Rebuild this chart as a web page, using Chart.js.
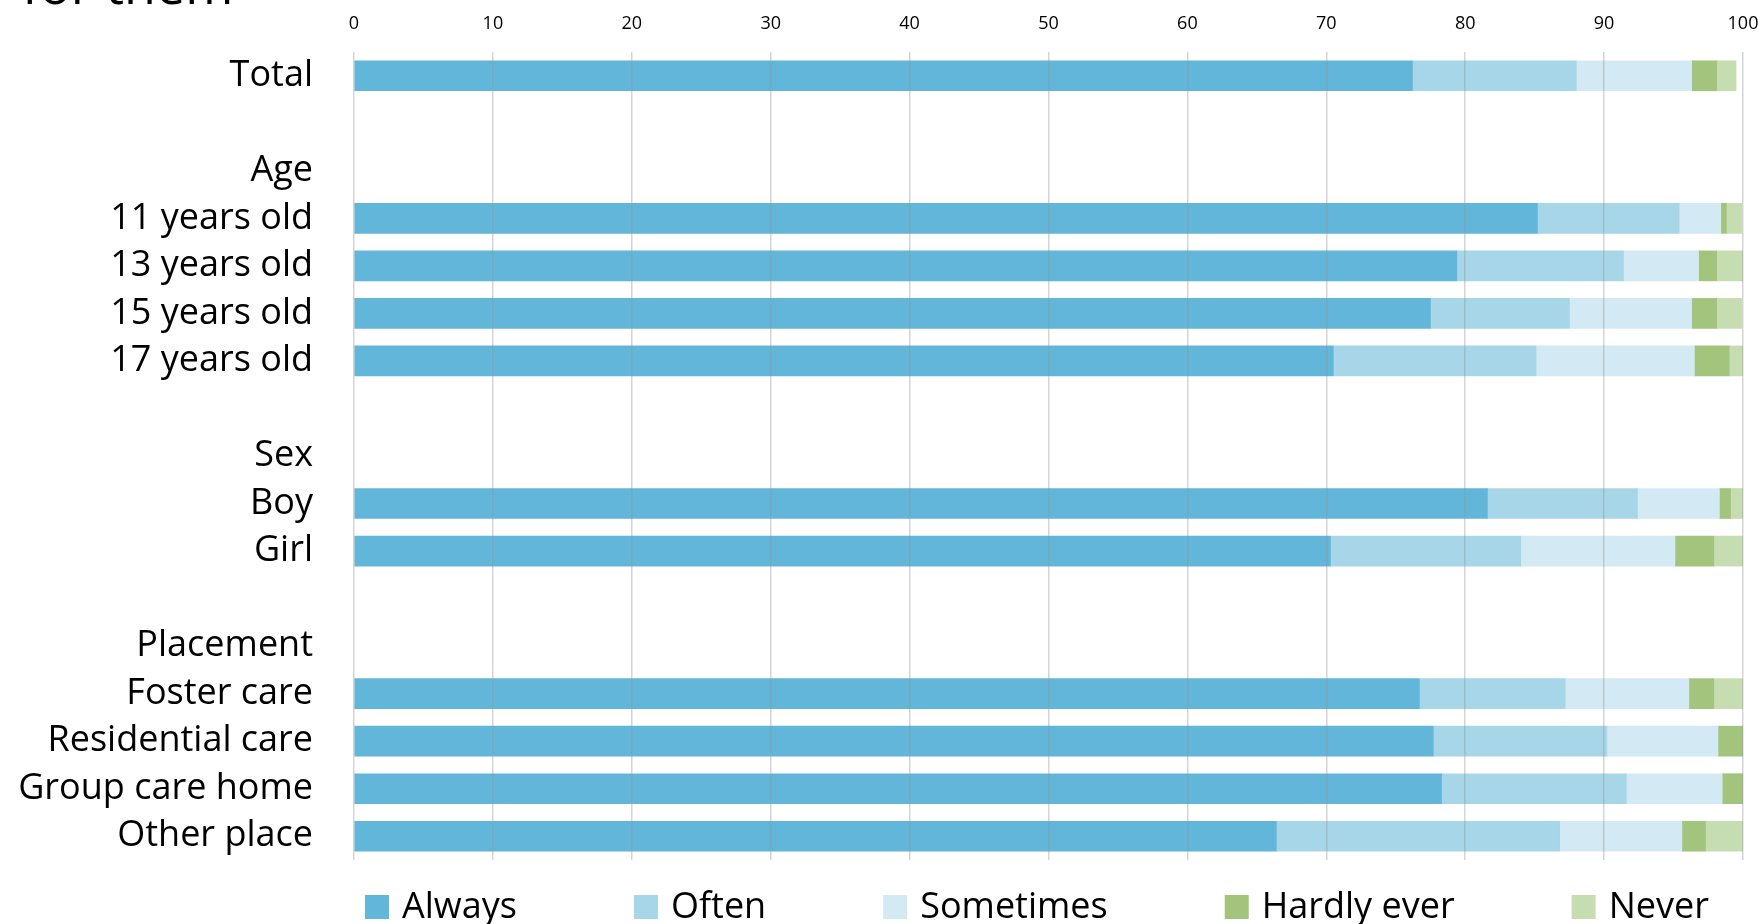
<!DOCTYPE html>
<html>
<head>
<meta charset="utf-8">
<script src="https://cdn.jsdelivr.net/npm/chart.js@4.4.1/dist/chart.umd.min.js"></script>
<style>
  body { margin: 0; background: #fff; }
  canvas { display: block; }
</style>
</head>
<body>
<canvas id="myChart" width="1762" height="924"></canvas>
<script>
// row labels, blank strings are spacer rows, group headings carry no bars
var categories = ['Total', '', 'Age', '11 years old', '13 years old', '15 years old', '17 years old',
  '', 'Sex', 'Boy', 'Girl', '', 'Placement', 'Foster care', 'Residential care', 'Group care home', 'Other place'];

var always     = [76.2, null, null, 85.2, 79.4, 77.5, 70.5, null, null, 81.6, 70.3, null, null, 76.7, 77.7, 78.3, 66.4];
var often      = [11.8, null, null, 10.2, 12.0, 10.0, 14.6, null, null, 10.8, 13.7, null, null, 10.5, 12.5, 13.3, 20.4];
var sometimes  = [8.3,  null, null, 3.0,  5.4,  8.8,  11.4, null, null, 5.9,  11.1, null, null, 8.9,  8.0,  6.9,  8.8];
var hardlyEver = [1.8,  null, null, 0.4,  1.3,  1.8,  2.5,  null, null, 0.8,  2.8,  null, null, 1.8,  1.8,  1.5,  1.7];
var never      = [1.4,  null, null, 1.1,  1.9,  1.8,  1.0,  null, null, 0.9,  2.1,  null, null, 2.1,  0,    0,    2.7];

var seriesNames = ['Always', 'Often', 'Sometimes', 'Hardly ever', 'Never'];
var seriesData = [always, often, sometimes, hardlyEver, never];
var seriesColors = ['#62b6d9', '#a6d6e7', '#d3eaf4', '#a3c47c', '#c5ddb0'];
var xTicks = [0, 10, 20, 30, 40, 50, 60, 70, 80, 90, 100];

var labelFont = 'Open Sans';

var datasets = [];
for (var i = 0; i < seriesNames.length; i++) {
  datasets.push({
    label: seriesNames[i],
    data: seriesData[i],
    backgroundColor: seriesColors[i],
    borderWidth: 0,
    barThickness: 30
  });
}

// heading cut off at the top edge of the page
var headingText = {
  id: 'headingText',
  afterDraw: function(chart) {
    var ctx = chart.ctx;
    ctx.save();
    ctx.fillStyle = '#000';
    ctx.font = '52px "' + labelFont + '"';
    ctx.textAlign = 'left';
    ctx.textBaseline = 'alphabetic';
    ctx.fillText('for them', 22, 4);
    ctx.restore();
  }
};

// legend row along the bottom with wide gaps between entries
var bottomLegend = {
  id: 'bottomLegend',
  afterDraw: function(chart) {
    var ctx = chart.ctx;
    var x = chart.chartArea.left + 11;
    var box = 24, top = 895, gap = 13, spacing = 117;
    ctx.save();
    ctx.font = '36px "' + labelFont + '"';
    ctx.textBaseline = 'middle';
    ctx.textAlign = 'left';
    chart.data.datasets.forEach(function(ds) {
      ctx.fillStyle = ds.backgroundColor;
      ctx.fillRect(x, top, box, box);
      ctx.fillStyle = '#000';
      ctx.fillText(ds.label, x + box + gap, top + box / 2 + 1);
      x += box + gap + ctx.measureText(ds.label).width + spacing;
    });
    ctx.restore();
  }
};

var ctx = document.getElementById('myChart').getContext('2d');
var chart = new Chart(ctx, {
  type: 'bar',
  data: {
    labels: categories,
    datasets: datasets
  },
  plugins: [headingText, bottomLegend],
  options: {
    indexAxis: 'y',
    responsive: false,
    animation: false,
    layout: {
      padding: { top: 15, right: 19, bottom: 64, left: 0 }
    },
    plugins: {
      legend: { display: false },
      tooltip: { enabled: false }
    },
    scales: {
      x: {
        position: 'top',
        stacked: true,
        min: 0,
        max: 100,
        afterBuildTicks: function(scale) {
          scale.ticks = xTicks.map(function(v) { return { value: v }; });
        },
        afterFit: function(scale) {
          scale.height = 37;
          scale.paddingLeft = 0;
          scale.paddingRight = 0;
        },
        grid: {
          color: 'rgba(150, 150, 150, 0.4)',
          lineWidth: 1.5,
          drawTicks: false,
          z: 1
        },
        border: { display: false },
        ticks: {
          color: '#000',
          padding: 17,
          font: { family: labelFont, size: 18 }
        }
      },
      y: {
        stacked: true,
        afterFit: function(scale) {
          scale.width = 354;
          scale.paddingTop = 0;
          scale.paddingBottom = 0;
        },
        grid: { display: false, drawTicks: false },
        border: { display: false },
        ticks: {
          autoSkip: false,
          color: '#000',
          padding: 41,
          font: { family: labelFont, size: 36 }
        }
      }
    }
  }
});
</script>
</body>
</html>
